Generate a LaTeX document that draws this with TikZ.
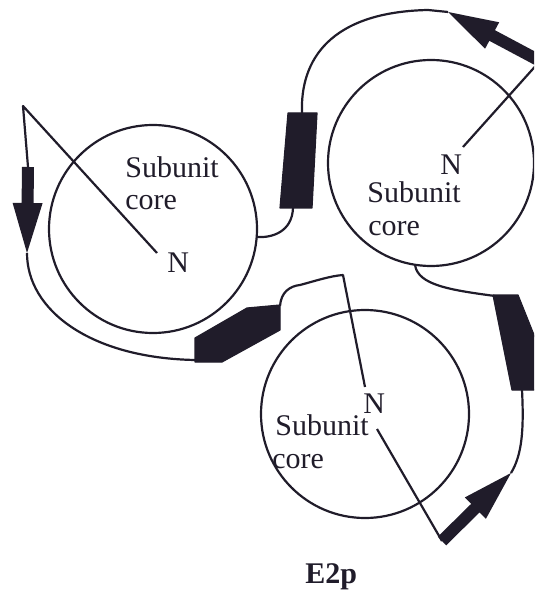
\documentclass[tikz,border=0pt]{standalone}
\usepackage{fontspec}
\setmainfont{Liberation Serif}
\usetikzlibrary{calc}

\definecolor{ink}{RGB}{32,28,42}

% flat beta strand from #1 (tail) to #2 (tip)
\newcommand{\betastrand}[2]{%
  \coordinate (hb) at ($(#2)!25pt!(#1)$);
  \fill[ink] ($(#1)!3pt!90:(#2)$) -- ($(hb)!3pt!90:(#2)$) -- ($(hb)!7.5pt!90:(#2)$)
    -- (#2) -- ($(hb)!7.5pt!-90:(#2)$) -- ($(hb)!3pt!-90:(#2)$) -- ($(#1)!3pt!-90:(#2)$) -- cycle;
}

\begin{document}
\begin{tikzpicture}[x=0.5pt, y=-0.5pt,
  core/.style={draw=ink, line width=1.1pt},
  chain/.style={draw=ink, line width=1.1pt, line join=round},
  helix/.style={fill=ink, draw=ink, line width=0.6pt, line join=round},
  lbl/.style={anchor=base west, inner sep=0pt, text=ink, font=\fontsize{15}{16}\selectfont}]

\path[use as bounding box, clip] (0,0) rectangle (534,598);

\draw[core] (153,229) circle[radius=104];
\draw[core] (431,163) circle[radius=103];
\draw[core] (365,414) circle[radius=104];

\node[lbl] (sub1) at (125,178) {Subunit};
\node[lbl] (core1) at (125,210) {core};
\node[lbl] (n1) at (167,272) {N};

\node[lbl] (n2) at (440,175) {N};
\node[lbl] (sub2) at (367,203) {Subunit};
\node[lbl] (core2) at (368,235) {core};

\node[lbl] (n3) at (363,413) {N};
\node[lbl] (sub3) at (275,435) {Subunit};
\node[lbl] (core3) at (272,468) {core};

\node[lbl, font=\fontsize{15}{16}\selectfont\bfseries] (name) at (305,583) {E2p};

% strand ends
\coordinate (s1tail) at (28,167);
\coordinate (s1tip) at (27,253);
\coordinate (s2tail) at (540,61);
\coordinate (s2tip) at (448,12);
\coordinate (s3tail) at (442,541);
\coordinate (s3tip) at (511,473);

% chain out of the first core
\draw[chain] (157,253) -- (23,106) -- (s1tail);
\betastrand{s1tail}{s1tip}
\draw[chain] (s1tip) .. controls (27,310) and (90,358) .. (195,360);
\draw[helix] (195,338) -- (247,308) -- (280,305) -- (280,330) -- (222,362) -- (195,362) -- cycle;
\draw[chain] (280,306) .. controls (281,292) and (290,286) .. (300,285)
  .. controls (315,281) and (330,276) .. (343,275) -- (365,387);

% chain out of the second core
\draw[chain] (463,147) -- (s2tail);
\betastrand{s2tail}{s2tip}
\draw[chain] (s2tip) -- (428,10) .. controls (330,12) and (300,60) .. (302,113);
\draw[helix] (288,113) -- (317,113) -- (312,208) -- (280,208) -- cycle;
\draw[chain] (293,208) .. controls (292,232) and (272,238) .. (257,237);

% chain out of the third core
\draw[chain] (415,265) .. controls (418,285) and (450,290) .. (495,296);
\draw[helix] (493,295) -- (518,295) -- (536,340) -- (540,390) -- (512,390) -- cycle;
\draw[chain] (522,390) .. controls (524,430) and (522,455) .. (s3tip);
\draw[chain] (377,429) -- (s3tail);
\betastrand{s3tail}{s3tip}

\end{tikzpicture}
\end{document}
